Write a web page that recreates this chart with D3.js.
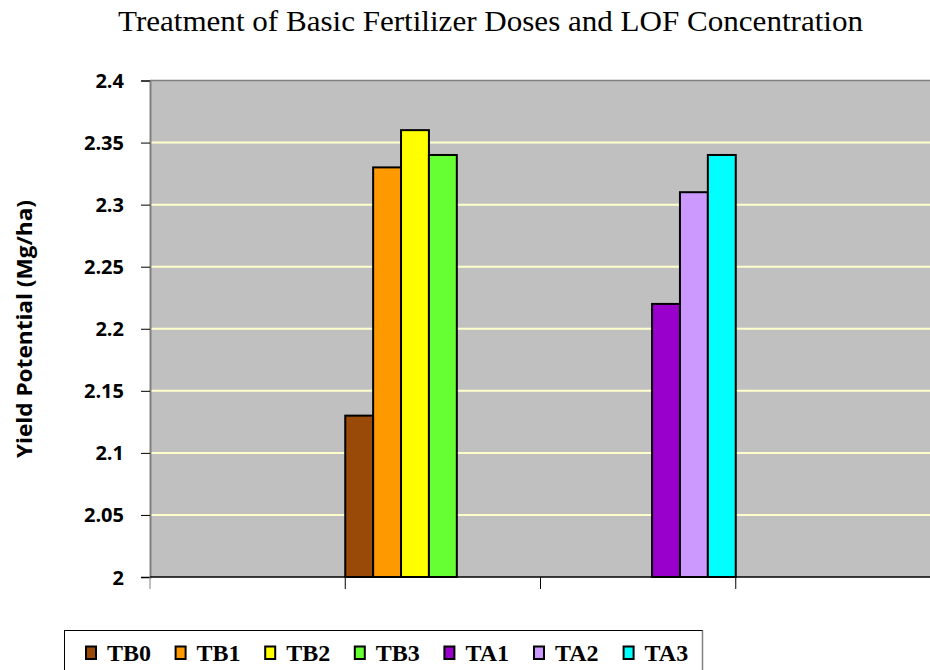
<!DOCTYPE html>
<html>
<head>
<meta charset="utf-8">
<script src="https://cdn.jsdelivr.net/npm/d3@7"></script>
<style>
  body { margin: 0; background: #fff; }
  svg { display: block; }
</style>
</head>
<body>
<script>
var width = 930,
    height = 670;

// 4 category slots on the x axis, no labels drawn
var categories = ["c1", "c2", "c3", "c4"];
var series = ["TB0", "TB1", "TB2", "TB3", "TA1", "TA2", "TA3"];
var colors = ["#994a08", "#ff9900", "#ffff00", "#66ff33", "#9900cc", "#cc99ff", "#00ffff"];
// value of each series in each category (null = no bar)
var values = {
  TB0: [null, 2.13, null, null],
  TB1: [null, 2.33, null, null],
  TB2: [null, 2.36, null, null],
  TB3: [null, 2.34, null, null],
  TA1: [null, null, 2.22, null],
  TA2: [null, null, 2.31, null],
  TA3: [null, null, 2.34, null]
};
var yTicks = [2, 2.05, 2.1, 2.15, 2.2, 2.25, 2.3, 2.35, 2.4];

var plot = {left: 150, right: 931, top: 80.5, bottom: 577};

var svg = d3.select("body").append("svg")
    .attr("width", width)
    .attr("height", height);

var x = d3.scaleBand()
    .domain(categories)
    .range([plot.left, plot.right])
    .padding(0);

var xs = d3.scaleBand()
    .domain(series)
    .range([0, x.bandwidth()])
    .padding(0);

var y = d3.scaleLinear()
    .domain([2, 2.4])
    .range([plot.bottom, plot.top]);

var color = d3.scaleOrdinal().domain(series).range(colors);

// plot background
svg.append("rect")
    .attr("x", plot.left)
    .attr("y", plot.top)
    .attr("width", plot.right - plot.left)
    .attr("height", plot.bottom - plot.top)
    .attr("fill", "#c0c0c0");

svg.append("line")
    .attr("x1", plot.left).attr("x2", plot.right)
    .attr("y1", plot.top).attr("y2", plot.top)
    .attr("stroke", "#808080").attr("stroke-width", 1.5);

// gridlines
svg.append("g")
  .selectAll("line")
  .data(yTicks.filter(d => d > 2 && d < 2.4))
  .join("line")
    .attr("x1", plot.left).attr("x2", plot.right)
    .attr("y1", d => y(d)).attr("y2", d => y(d))
    .attr("stroke", "#ffffcc").attr("stroke-width", 2);

// bars
var rows = [];
series.forEach(function(s) {
  values[s].forEach(function(v, i) {
    if (v != null) rows.push({series: s, cat: categories[i], value: v});
  });
});

svg.append("g")
  .selectAll("rect")
  .data(rows)
  .join("rect")
    .attr("x", d => x(d.cat) + xs(d.series))
    .attr("y", d => y(d.value))
    .attr("width", xs.bandwidth())
    .attr("height", d => y(2) - y(d.value))
    .attr("fill", d => color(d.series))
    .attr("stroke", "#000")
    .attr("stroke-width", 2);

// y axis
var yAxis = d3.axisLeft(y)
    .tickValues(yTicks)
    .tickFormat(d3.format("~g"))
    .tickSize(9)
    .tickPadding(17);

var gy = svg.append("g")
    .attr("transform", "translate(" + plot.left + ",0)")
    .call(yAxis);
gy.select(".domain").attr("stroke", "#808080").attr("stroke-width", 2);
gy.selectAll(".tick line").attr("stroke", "#000");
gy.selectAll("text")
    .attr("font-family", "'Open Sans', sans-serif")
    .attr("font-weight", "bold")
    .attr("font-size", 20)
    .attr("dy", "0.35em")
    .attr("fill", "#000");

// x axis
var gx = svg.append("g")
    .attr("transform", "translate(0," + plot.bottom + ")");
gx.append("line")
    .attr("x1", plot.left).attr("x2", plot.right)
    .attr("stroke", "#000").attr("stroke-width", 1.5);
gx.selectAll("line.tk")
  .data(categories)
  .join("line")
    .attr("class", "tk")
    .attr("x1", d => x(d)).attr("x2", d => x(d))
    .attr("y1", 0).attr("y2", 12)
    .attr("stroke", (d, i) => i == 0 ? "#808080" : "#000")
    .attr("stroke-width", 1);

// title
svg.append("text")
    .attr("x", 490.5)
    .attr("y", 31)
    .attr("text-anchor", "middle")
    .attr("font-family", "'Liberation Serif', 'Times New Roman', serif")
    .attr("font-size", 29)
    .attr("textLength", 745)
    .attr("lengthAdjust", "spacingAndGlyphs")
    .text("Treatment of Basic Fertilizer Doses and LOF Concentration");

// y label
svg.append("text")
    .attr("transform", "translate(32,329) rotate(-90)")
    .attr("text-anchor", "middle")
    .attr("font-family", "'Open Sans', sans-serif")
    .attr("font-weight", "bold")
    .attr("font-size", 22)
    .attr("textLength", 258)
    .attr("lengthAdjust", "spacingAndGlyphs")
    .text("Yield Potential (Mg/ha)");

// legend
var legend = svg.append("g");
legend.append("rect")
    .attr("x", 64.5).attr("y", 630.5)
    .attr("width", 638).attr("height", 45)
    .attr("fill", "#fff")
    .attr("stroke", "#000").attr("stroke-width", 1);
legend.append("line")
    .attr("x1", 702.5).attr("x2", 702.5)
    .attr("y1", 630.5).attr("y2", 670)
    .attr("stroke", "#808080").attr("stroke-width", 1.5);

var item = legend.selectAll("g.item")
  .data(series)
  .join("g")
    .attr("class", "item")
    .attr("transform", (d, i) => "translate(" + (86 + i * 89.6) + ",0)");

item.append("rect")
    .attr("x", 0).attr("y", 646.5)
    .attr("width", 10).attr("height", 12.5)
    .attr("fill", d => color(d))
    .attr("stroke", "#000").attr("stroke-width", 2);

item.append("text")
    .attr("x", 21).attr("y", 661)
    .attr("font-family", "'Liberation Serif', 'Times New Roman', serif")
    .attr("font-weight", "bold")
    .attr("font-size", 24)
    .text(d => d);
</script>
</body>
</html>
